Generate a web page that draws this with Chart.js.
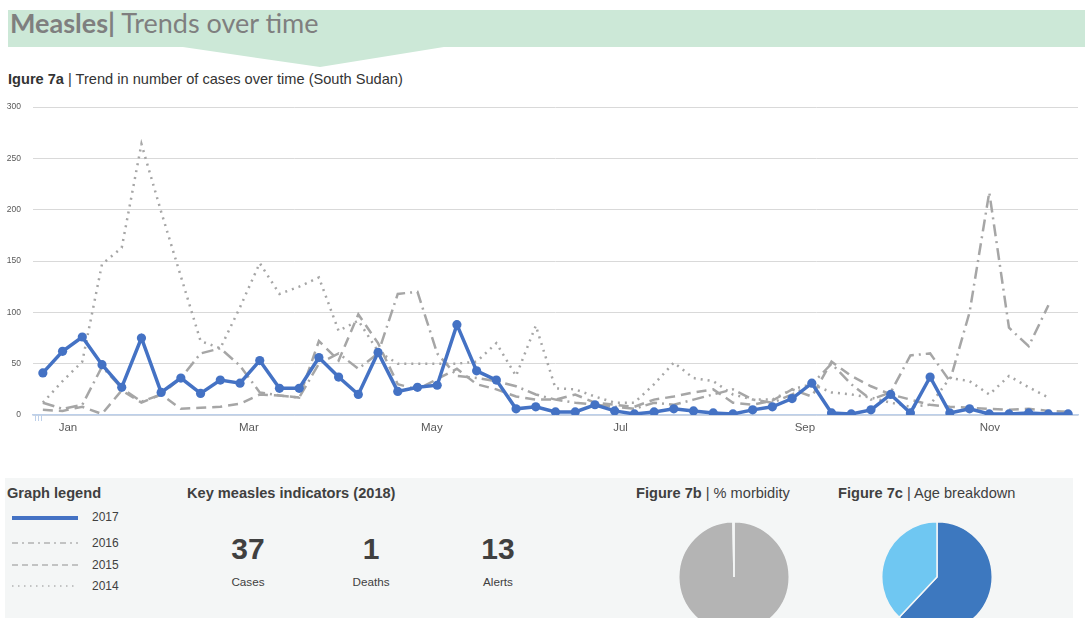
<!DOCTYPE html>
<html>
<head>
<meta charset="utf-8">
<script src="https://cdn.jsdelivr.net/npm/chart.js@4.4.1/dist/chart.umd.min.js"></script>
<style>
  html, body { margin:0; padding:0; width:1092px; height:618px; overflow:hidden; background:#ffffff; font-family:"Liberation Sans", Arial, sans-serif; }
  .abs { position:absolute; white-space:nowrap; }
  #band { left:8px; top:10px; width:1077px; height:37px; background:#cce8d7; }
  #chev { left:0; top:0; }
  #title { left:10px; top:6px; font-family:Lato, "Open Sans", sans-serif; font-size:27px; color:#7f7f7f; }
  #title b { font-weight:700; }
  #sub { left:8px; top:71px; font-size:14.6px; color:#333; }
  #panel { left:5px; top:478px; width:1068px; height:150px; background:#f4f6f6; }
  .h { font-size:14.6px; font-weight:700; color:#404040; }
  .fig { font-size:14.6px; color:#404040; }
  .num { font-size:30px; font-weight:700; color:#404040; transform:translateX(-50%); }
  .lab { font-size:11.7px; color:#404040; transform:translateX(-50%); }
  .lg { font-size:12px; color:#404040; }
</style>
</head>
<body>
<script>
// ---------------- data ----------------
const seriesNames = ['2017', '2016', '2015', '2014'];
const cases2017 = [41,62,76,49,27,75,22,36,21,34,31,53,26,26,56,37,20,61,23,27,29,88,43,34,6,8,3,3,10,4,1,3,6,4,2,1,5,8,16,31,2,1,5,20,2,37,2,6,1,1,2,1,1];
const cases2016 = [12,6,10,47,26,13,20,36,60,65,48,22,19,17,50,60,45,60,118,120,60,38,36,33,28,20,15,12,10,8,6,12,10,15,20,25,15,12,20,30,50,30,15,22,58,60,33,100,217,85,67,107];
const cases2015 = [5,4,8,1,24,12,20,6,7,8,11,20,19,17,72,53,98,70,30,25,35,45,30,25,18,15,15,20,12,10,8,15,18,22,25,12,10,14,25,18,52,38,28,20,15,10,8,7,6,5,6,4,3];
const cases2014 = [12,33,52,147,163,264,198,135,72,65,105,148,118,125,134,82,92,62,50,50,50,50,52,70,38,87,26,25,18,12,12,30,51,36,33,20,15,15,25,30,22,20,17,12,8,10,36,33,20,38,27,17];
const monthLabels = ['Jan','Mar','May','Jul','Sep','Nov'];
const monthTickWeeks = [2.27, 11.45, 20.73, 30.3, 39.65, 49.03];
const yTicks = [0,50,100,150,200,250,300];
const morbidityValues = [99.7, 0.3];
const ageValues = [62, 38];
const indicatorValues = ['37', '1', '13'];
const indicatorLabels = ['Cases', 'Deaths', 'Alerts'];
</script>

<div class="abs" id="band"></div>
<svg class="abs" id="chev" width="1092" height="80"><polygon points="176,46 320,67 450,46" fill="#cce8d7"/></svg>
<div class="abs" id="title"><b>Measles|</b> Trends over time</div>
<div class="abs" id="sub"><b>Igure 7a</b> | Trend in number of cases over time (South Sudan)</div>

<canvas id="main" class="abs" style="left:0;top:90px" width="1092" height="350"></canvas>

<div class="abs" id="panel"></div>
<div class="abs h" style="left:7px;top:485px">Graph legend</div>
<div class="abs h" style="left:187px;top:485px">Key measles indicators (2018)</div>
<div class="abs fig" style="left:636px;top:485px"><b>Figure 7b</b> | % morbidity</div>
<div class="abs fig" style="left:838px;top:485px"><b>Figure 7c</b> | Age breakdown</div>

<svg class="abs" style="left:0;top:500px" width="80" height="100">
  <line x1="12" y1="18" x2="78" y2="18" stroke="#4472c4" stroke-width="4"/>
  <line x1="12" y1="43" x2="78" y2="43" stroke="#909090" stroke-width="1" stroke-dasharray="6,4,2,4"/>
  <line x1="12" y1="65" x2="78" y2="65" stroke="#909090" stroke-width="1" stroke-dasharray="6,4"/>
  <line x1="12" y1="86" x2="78" y2="86" stroke="#909090" stroke-width="1" stroke-dasharray="1.5,4.5"/>
</svg>
<div id="legendLabels"></div>
<div id="indicators"></div>

<canvas id="pieB" class="abs" style="left:678px;top:521px" width="112" height="112"></canvas>
<canvas id="pieC" class="abs" style="left:881px;top:521px" width="112" height="112"></canvas>

<script>
// legend labels + indicators as text
const legendTops = [510, 536, 558, 579];
const ll = document.getElementById('legendLabels');
seriesNames.forEach((n, i) => {
  const d = document.createElement('div');
  d.className = 'abs lg'; d.style.left = '92px'; d.style.top = legendTops[i] + 'px'; d.textContent = n;
  ll.appendChild(d);
});
const indX = [248, 371, 498];
const ind = document.getElementById('indicators');
indicatorValues.forEach((v, i) => {
  const a = document.createElement('div');
  a.className = 'abs num'; a.style.left = indX[i] + 'px'; a.style.top = '532px'; a.textContent = v;
  ind.appendChild(a);
  const b = document.createElement('div');
  b.className = 'abs lab'; b.style.left = indX[i] + 'px'; b.style.top = '575px'; b.textContent = indicatorLabels[i];
  ind.appendChild(b);
});

const toXY = arr => arr.map((v, i) => ({x: i + 1, y: v}));
const gray = '#a6a6a6';

// tiny tick marks near the origin of the x axis (as in the reference)
const originTicks = {
  id: 'originTicks',
  afterDraw(chart) {
    const {ctx, chartArea} = chart;
    ctx.save();
    ctx.strokeStyle = '#bdd0ea'; ctx.lineWidth = 1;
    [2, 5, 8].forEach(dx => {
      const x = Math.round(chartArea.left + dx) + 0.5;
      ctx.beginPath(); ctx.moveTo(x, chartArea.bottom); ctx.lineTo(x, chartArea.bottom + 6); ctx.stroke();
    });
    ctx.restore();
  }
};

new Chart(document.getElementById('main'), {
  type: 'line',
  data: {
    datasets: [
      { label: seriesNames[0], data: toXY(cases2017), borderColor: '#4472c4', backgroundColor: '#4472c4', borderWidth: 3.5, pointRadius: 4.6, pointBorderWidth: 0, pointBackgroundColor: '#4472c4' },
      { label: seriesNames[1], data: toXY(cases2016), borderColor: gray, borderWidth: 2.5, borderDash: [12, 5, 2, 5], pointRadius: 0 },
      { label: seriesNames[2], data: toXY(cases2015), borderColor: gray, borderWidth: 2.5, borderDash: [10, 6], pointRadius: 0 },
      { label: seriesNames[3], data: toXY(cases2014), borderColor: gray, borderWidth: 2.5, borderDash: [2, 5], pointRadius: 0 }
    ]
  },
  plugins: [originTicks],
  options: {
    responsive: false, animation: false,
    layout: { padding: { top: 1, right: 14, left: 0, bottom: 0 } },
    plugins: { legend: { display: false }, tooltip: { enabled: false } },
    elements: { line: { tension: 0 } },
    scales: {
      x: {
        type: 'linear', min: 0.5, max: 53.5,
        afterBuildTicks: s => { s.ticks = monthTickWeeks.map(v => ({ value: v })); },
        afterFit: s => { s.height = 25; },
        ticks: { callback: (v, i) => monthLabels[i], color: '#595959', font: { size: 11.5, family: 'Liberation Sans' }, padding: 6, maxRotation: 0, autoSkip: false },
        grid: { display: false, drawTicks: false },
        border: { display: true, color: '#bdd0ea', width: 1.5 }
      },
      y: {
        min: 0, max: 300,
        afterBuildTicks: s => { s.ticks = yTicks.map(v => ({ value: v })); },
        afterFit: s => { s.width = 33; },
        ticks: { color: '#595959', font: { size: 8.5, family: 'Liberation Sans' }, padding: 12 },
        grid: { color: '#d9d9d9', lineWidth: 1, drawTicks: false },
        border: { display: false }
      }
    }
  }
});

const pieOpts = {
  responsive: false, animation: false,
  layout: { padding: 0 },
  plugins: { legend: { display: false }, tooltip: { enabled: false } }
};
new Chart(document.getElementById('pieB'), {
  type: 'pie',
  data: { labels: ['a', 'b'], datasets: [{ data: morbidityValues, backgroundColor: ['#b4b4b4', '#b4b4b4'], borderColor: '#f4f6f6', borderWidth: 1.5 }] },
  options: pieOpts
});
new Chart(document.getElementById('pieC'), {
  type: 'pie',
  data: { labels: ['a', 'b'], datasets: [{ data: ageValues, backgroundColor: ['#3d78bf', '#6fc7f2'], borderColor: '#f4f6f6', borderWidth: 1.5 }] },
  options: pieOpts
});
</script>
</body>
</html>
